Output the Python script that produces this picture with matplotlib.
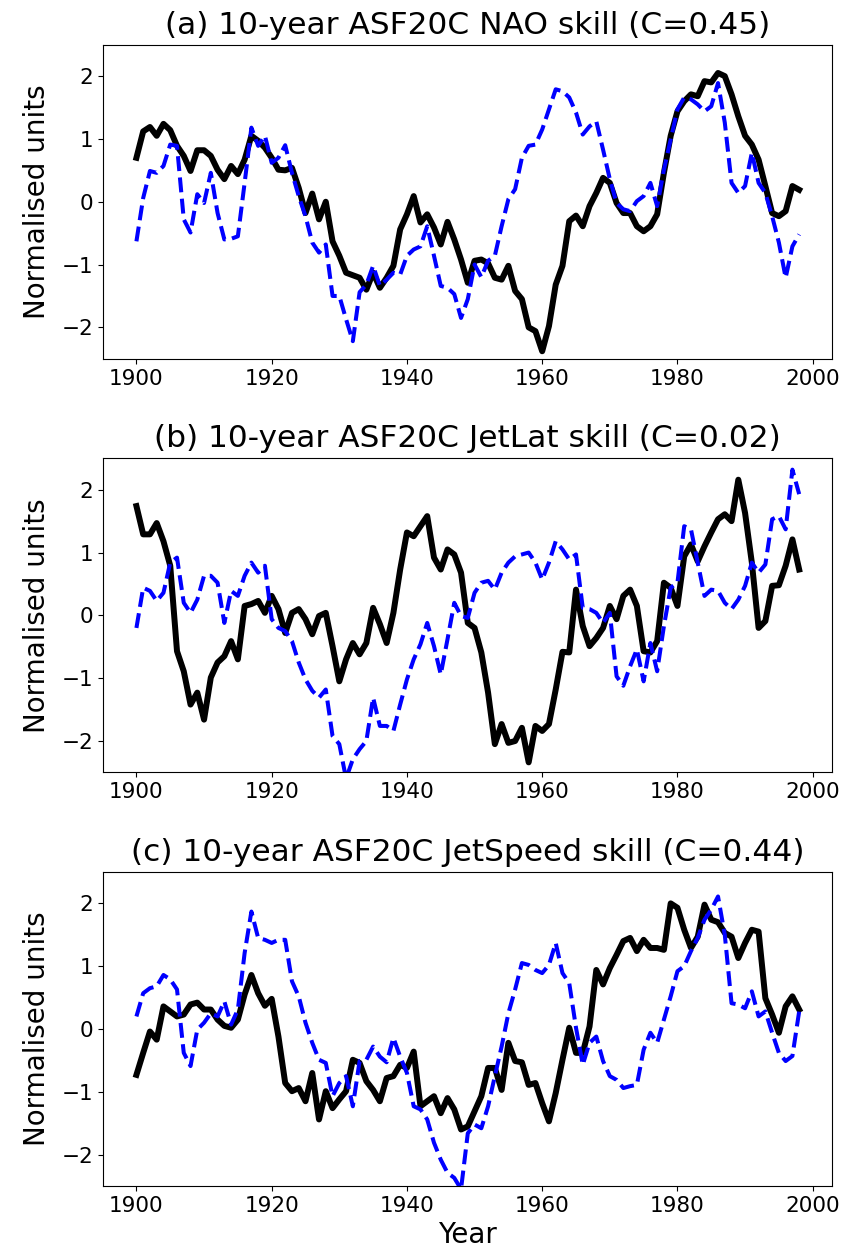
import numpy as np
import matplotlib
matplotlib.use("Agg")
import matplotlib.pyplot as plt

years = np.arange(1900, 1999)

nao_obs = [
    0.70, 1.12, 1.19, 1.05, 1.24, 1.14, 0.89, 0.73, 0.49, 0.82,
    0.82, 0.73, 0.51, 0.36, 0.57, 0.44, 0.67, 1.05, 0.97, 0.86,
    0.70, 0.51, 0.50, 0.54, 0.22, -0.18, 0.13, -0.28, 0.00, -0.63,
    -0.86, -1.13, -1.17, -1.21, -1.40, -1.13, -1.37, -1.21, -1.02, -0.44,
    -0.20, 0.09, -0.33, -0.20, -0.41, -0.68, -0.32, -0.60, -0.92, -1.29,
    -0.94, -0.92, -0.98, -1.21, -1.24, -1.02, -1.42, -1.55, -2.00, -2.06,
    -2.38, -1.98, -1.32, -1.02, -0.31, -0.22, -0.39, -0.07, 0.14, 0.38,
    0.30, -0.02, -0.18, -0.18, -0.39, -0.47, -0.39, -0.20, 0.46, 1.05,
    1.44, 1.60, 1.71, 1.68, 1.92, 1.90, 2.05, 2.00, 1.71, 1.36,
    1.05, 0.91, 0.67, 0.25, -0.18, -0.23, -0.15, 0.25, 0.19,
]
nao_model = [
    -0.63, 0.06, 0.49, 0.46, 0.57, 0.91, 0.89, -0.28, -0.49, 0.12,
    -0.02, 0.46, -0.18, -0.60, -0.59, -0.55, 0.30, 1.18, 0.89, 1.05,
    0.62, 0.70, 0.90, 0.46, 0.09, -0.23, -0.65, -0.81, -0.68, -1.50,
    -1.50, -1.87, -2.22, -1.44, -1.32, -1.02, -1.34, -1.24, -1.13, -1.16,
    -0.86, -0.76, -0.71, -0.39, -0.86, -1.34, -1.37, -1.47, -1.85, -1.55,
    -1.00, -1.20, -0.94, -0.86, -0.39, 0.04, 0.20, 0.70, 0.89, 0.91,
    1.15, 1.47, 1.79, 1.76, 1.66, 1.42, 1.07, 1.20, 1.28, 0.83,
    0.36, -0.02, -0.12, -0.15, 0.01, 0.09, 0.30, -0.07, 0.51, 0.99,
    1.47, 1.66, 1.63, 1.55, 1.44, 1.52, 1.89, 1.26, 0.30, 0.14,
    0.25, 0.78, 0.30, 0.14, -0.23, -0.65, -1.21, -0.71, -0.52,
]

jetlat_obs = [
    1.74, 1.29, 1.29, 1.47, 1.18, 0.79, -0.57, -0.89, -1.42, -1.23,
    -1.66, -0.99, -0.75, -0.65, -0.41, -0.70, 0.15, 0.18, 0.23, 0.04,
    0.31, 0.10, -0.28, 0.04, 0.10, -0.06, -0.30, -0.01, 0.04, -0.49,
    -1.05, -0.70, -0.44, -0.62, -0.44, 0.12, -0.14, -0.44, 0.04, 0.73,
    1.32, 1.26, 1.42, 1.58, 0.92, 0.73, 1.05, 0.97, 0.68, -0.12,
    -0.20, -0.59, -1.23, -2.05, -1.73, -2.03, -2.00, -1.79, -2.34, -1.76,
    -1.84, -1.73, -1.18, -0.58, -0.59, 0.41, -0.17, -0.49, -0.36, -0.20,
    0.15, -0.06, 0.31, 0.41, 0.15, -0.57, -0.59, -0.41, 0.52, 0.44,
    0.15, 0.94, 1.13, 0.86, 1.10, 1.32, 1.53, 1.61, 1.50, 2.16,
    1.63, 0.84, -0.20, -0.09, 0.47, 0.48, 0.79, 1.21, 0.73,
]
jetlat_model = [
    -0.20, 0.44, 0.39, 0.23, 0.36, 0.84, 0.92, 0.20, 0.04, 0.25,
    0.63, 0.63, 0.52, -0.12, 0.39, 0.31, 0.63, 0.84, 0.68, 0.79,
    -0.06, -0.20, -0.25, -0.41, -0.75, -1.02, -1.20, -1.31, -1.18, -1.92,
    -2.05, -2.60, -2.29, -2.13, -2.00, -1.31, -1.76, -1.76, -1.84, -1.42,
    -1.02, -0.70, -0.46, -0.12, -0.49, -0.94, -0.38, 0.20, -0.01, -0.04,
    0.36, 0.52, 0.55, 0.41, 0.68, 0.84, 0.94, 0.97, 1.00, 0.84,
    0.57, 0.84, 1.18, 1.05, 0.89, 0.97, 0.12, 0.10, 0.04, -0.12,
    0.04, -0.97, -1.12, -0.81, -0.54, -1.05, -0.44, -0.89, -0.17, 0.44,
    0.52, 1.42, 1.37, 0.84, 0.31, 0.41, 0.39, 0.20, 0.10, 0.25,
    0.47, 0.84, 0.68, 0.81, 1.53, 1.58, 1.37, 2.32, 1.93,
]

jetspeed_obs = [
    -0.73, -0.38, -0.04, -0.17, 0.36, 0.28, 0.20, 0.23, 0.39, 0.42,
    0.31, 0.31, 0.15, 0.05, 0.02, 0.15, 0.55, 0.86, 0.57, 0.37,
    0.48, -0.12, -0.86, -0.99, -0.94, -1.15, -0.70, -1.44, -0.99, -1.26,
    -1.12, -0.99, -0.49, -0.54, -0.83, -0.97, -1.15, -0.78, -0.75, -0.57,
    -0.62, -0.36, -1.23, -1.15, -1.07, -1.34, -1.10, -1.28, -1.60, -1.55,
    -1.31, -1.07, -0.62, -0.62, -0.97, -0.22, -0.51, -0.53, -0.89, -0.86,
    -1.18, -1.47, -1.02, -0.49, 0.02, -0.38, -0.38, 0.04, 0.94, 0.71,
    0.97, 1.18, 1.40, 1.45, 1.24, 1.42, 1.29, 1.29, 1.26, 2.00,
    1.93, 1.58, 1.29, 1.47, 1.98, 1.74, 1.70, 1.53, 1.47, 1.13,
    1.37, 1.58, 1.55, 0.49, 0.23, -0.06, 0.36, 0.52, 0.31,
]
jetspeed_model = [
    0.20, 0.57, 0.65, 0.68, 0.86, 0.79, 0.63, -0.38, -0.59, -0.01,
    0.10, 0.25, 0.20, 0.44, 0.07, 0.31, 1.21, 1.87, 1.45, 1.42,
    1.37, 1.42, 1.42, 0.76, 0.52, 0.10, -0.22, -0.49, -0.54, -1.07,
    -0.86, -0.75, -1.23, -0.51, -0.49, -0.28, -0.44, -0.53, -0.14, -0.44,
    -0.70, -1.23, -1.28, -1.44, -1.81, -2.08, -2.29, -2.37, -2.55, -1.66,
    -1.52, -1.58, -1.23, -0.75, -0.28, 0.25, 0.63, 1.05, 1.02, 0.94,
    0.89, 1.02, 1.37, 0.89, 0.73, 0.02, -0.57, -0.22, -0.12, -0.51,
    -0.75, -0.81, -0.94, -0.91, -0.89, -0.33, -0.06, -0.22, 0.15, 0.52,
    0.92, 1.00, 1.24, 1.45, 1.74, 1.90, 2.11, 1.50, 0.41, 0.39,
    0.33, 0.60, 0.20, 0.28, -0.06, -0.38, -0.51, -0.43, 0.28,
]

titles = [
    "(a) 10-year ASF20C NAO skill (C=0.45)",
    "(b) 10-year ASF20C JetLat skill (C=0.02)",
    "(c) 10-year ASF20C JetSpeed skill (C=0.44)",
]
panels = [
    (nao_obs, nao_model),
    (jetlat_obs, jetlat_model),
    (jetspeed_obs, jetspeed_model),
]

fig, axes = plt.subplots(3, 1, figsize=(8.48, 12.56), dpi=100)
plt.subplots_adjust(left=0.1218, right=0.9815, top=0.9644, bottom=0.0557, hspace=0.317)

for ax, title, (obs, model) in zip(axes, titles, panels):
    ax.plot(years, obs, color="k", linewidth=4.3)
    ax.plot(years, model, color="b", linestyle="--", linewidth=2.9)
    ax.set_ylim(-2.5, 2.5)
    ax.set_yticks([-2, -1, 0, 1, 2])
    ax.set_title(title, fontsize=22.5, pad=8)
    ax.set_ylabel("Normalised units", fontsize=20, labelpad=8)
    ax.tick_params(labelsize=15.5)

axes[-1].set_xlabel("Year", fontsize=20)

plt.savefig("out.png", dpi=100)
